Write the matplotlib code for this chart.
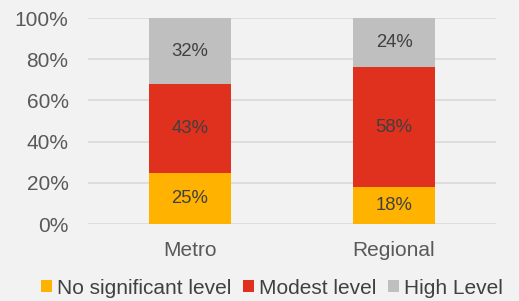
import matplotlib.pyplot as plt
import numpy as np

plt.rcParams['font.family'] = ['Liberation Sans', 'DejaVu Sans']

categories = ["Metro", "Regional"]
series_names = ["No significant level", "Modest level", "High Level"]
no_significant = [25, 18]
modest = [43, 58]
high = [32, 24]
colors = ["#ffb300", "#e0301e", "#bfbfbf"]

bg = "#f2f2f2"
fig = plt.figure(figsize=(5.19, 3.01), dpi=100, facecolor=bg)
ax = fig.add_axes([0.1696, 0.2558, 0.7861, 0.6842], facecolor=bg)

x = np.arange(len(categories))
bottom = np.zeros(len(categories))
for name, vals, col in zip(series_names, [no_significant, modest, high], colors):
    ax.bar(x, vals, 0.4, bottom=bottom, color=col, label=name, zorder=3)
    for xi, b, v in zip(x, bottom, vals):
        ax.text(xi, b + v / 2, f"{v}%", ha="center", va="center",
                fontsize=13.3, color="#404040", zorder=4)
    bottom += np.array(vals)

ax.set_xlim(-0.5, 1.5)
ax.set_ylim(0, 100)
ax.set_yticks(range(0, 101, 20))
ax.set_yticklabels([f"{t}%" for t in range(0, 101, 20)])
ax.set_xticks(x)
ax.set_xticklabels(categories)
ax.tick_params(length=0, labelsize=15, colors="#595959")
ax.tick_params(axis="y", pad=14)
ax.tick_params(axis="x", pad=12)
ax.grid(axis="y", color="#d9d9d9", linewidth=1.2, zorder=0)
for s in ax.spines.values():
    s.set_visible(False)

fig.legend(loc="center", bbox_to_anchor=(0.524, 0.043), ncol=3, frameon=False,
           fontsize=15, handlelength=0.52, handleheight=0.52, handletextpad=0.25,
           columnspacing=0.55, labelcolor="#404040", borderpad=0, borderaxespad=0)

fig.savefig("out.png", dpi=100, facecolor=bg)
